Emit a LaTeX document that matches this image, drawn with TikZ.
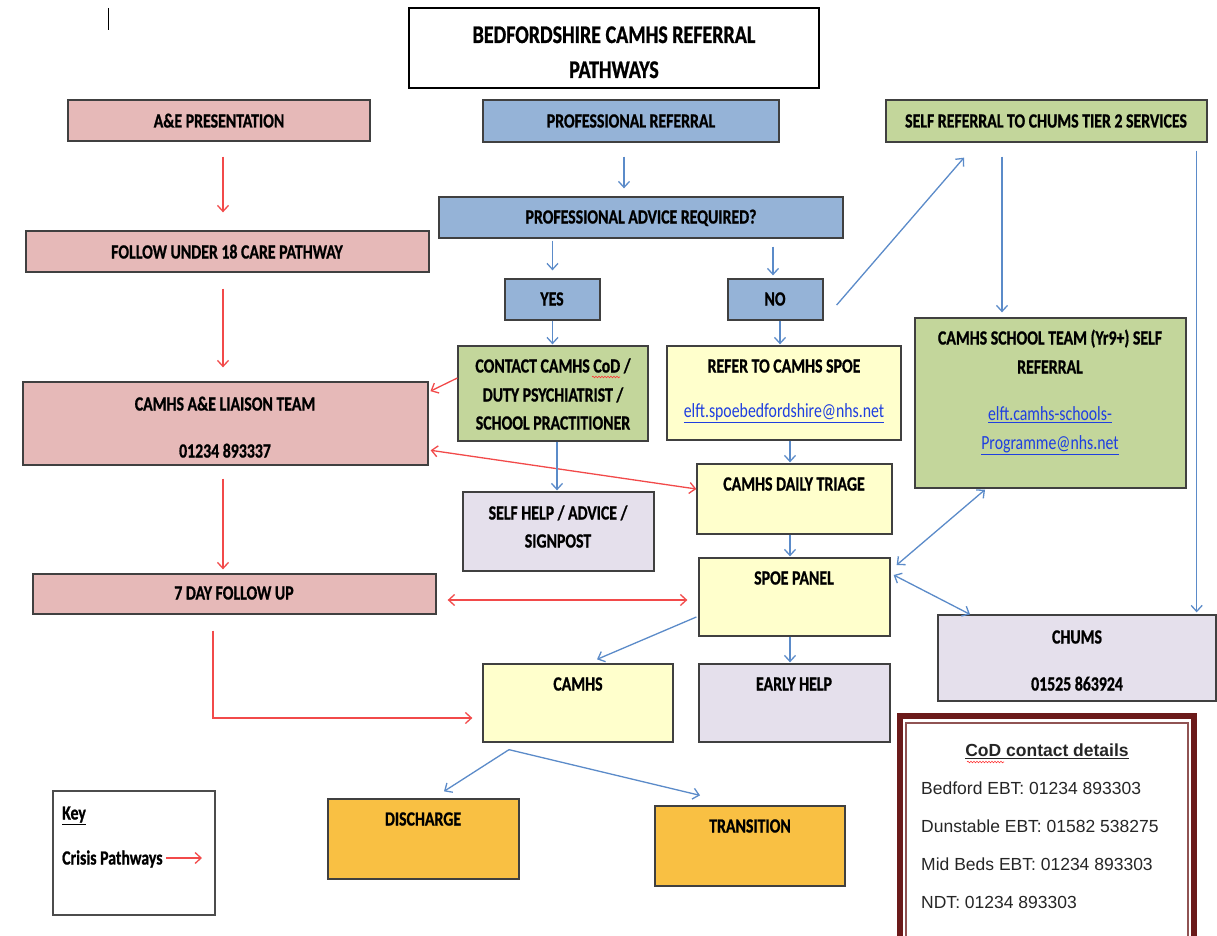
\documentclass[tikz,border=0pt]{standalone}
\usepackage{fontspec}
\setmainfont{Carlito}[FakeStretch=0.93, BoldFeatures={FakeBold=1}]
\newfontfamily\arialf{Liberation Sans}
\usetikzlibrary{arrows.meta,fit,decorations.pathmorphing}
\definecolor{pinkf}{HTML}{E6B9B8}
\definecolor{bluef}{HTML}{95B3D7}
\definecolor{greenf}{HTML}{C3D69B}
\definecolor{yellowf}{HTML}{FFFFCC}
\definecolor{lavf}{HTML}{E5E0EC}
\definecolor{orangef}{HTML}{F9C043}
\definecolor{arrblue}{HTML}{5B8BC9}
\definecolor{arrred}{HTML}{F24A4A}
\definecolor{linkblue}{HTML}{1F3FE0}
\definecolor{maroon}{HTML}{6B1A1A}
\newcommand{\vs}[1]{\scalebox{1}[1.18]{#1}}
\tikzset{
  box/.style={draw=black!75, line width=1.3pt, inner sep=0pt},
  lbl/.style={font=\bfseries\fontsize{17}{20}\selectfont, inner sep=0pt, text height=13pt, text depth=0pt},
  lnk/.style={font=\fontsize{17}{20}\selectfont, text=linkblue, inner sep=0pt, text height=13pt, text depth=0pt},
  cf/.style={font=\arialf\fontsize{17.5}{20}\selectfont, text=black!85, inner sep=0pt, text height=12.5pt, text depth=0pt, anchor=west},
  ba/.style={draw=arrblue, line width=1.3pt, -{Straight Barb[length=6pt,width=11pt]}},
  bab/.style={draw=arrblue, line width=1.3pt, {Straight Barb[length=6pt,width=11pt]}-{Straight Barb[length=6pt,width=11pt]}},
  ra/.style={draw=arrred, line width=1.3pt, -{Straight Barb[length=6pt,width=11pt]}},
  rab/.style={draw=arrred, line width=1.3pt, {Straight Barb[length=6pt,width=11pt]}-{Straight Barb[length=6pt,width=11pt]}},
  squig/.style={draw=red!80, line width=0.6pt, decorate, decoration={snake, amplitude=0.8pt, segment length=3pt}}
}
\begin{document}
\begin{tikzpicture}[x=1pt,y=-1pt]
\clip (0,0) rectangle (1217,936);
\fill[white] (0,0) rectangle (1217,936);
\draw[black, line width=0.8pt] (108,8) -- (108,30);
% boxes
\node[box, draw=black, line width=2pt, fit={(409,8) (819,88)}] (title) {};
\node[box, fill=pinkf, fit={(68,100) (370,141)}] (ae) {};
\node[box, fill=bluef, fit={(483,100) (779,142)}] (pr) {};
\node[box, fill=greenf, fit={(886,100) (1207,142)}] (sr) {};
\node[box, fill=bluef, fit={(439,197) (843,238)}] (pa) {};
\node[box, fill=pinkf, fit={(26,231) (429,272)}] (fol) {};
\node[box, fill=bluef, fit={(505,279) (600,320)}] (yes) {};
\node[box, fill=bluef, fit={(728,279) (823,320)}] (no) {};
\node[box, fill=greenf, fit={(458,346) (648,441)}] (con) {};
\node[box, fill=yellowf, fit={(667,346) (901,440)}] (ref) {};
\node[box, fill=greenf, fit={(915,318) (1186,488)}] (sch) {};
\node[box, fill=pinkf, fit={(23,382) (428,465)}] (lia) {};
\node[box, fill=yellowf, fit={(697,464) (892,534)}] (tri) {};
\node[box, fill=lavf, fit={(463,492) (654,571)}] (sh) {};
\node[box, fill=pinkf, fit={(33,574) (436,614)}] (sev) {};
\node[box, fill=yellowf, fit={(699,558) (890,636)}] (pan) {};
\node[box, fill=lavf, fit={(938,615) (1216,701)}] (chu) {};
\node[box, fill=yellowf, fit={(483,664) (673,742)}] (cam) {};
\node[box, fill=lavf, fit={(699,664) (890,742)}] (eh) {};
\node[box, fill=orangef, fit={(328,799) (519,879)}] (dis) {};
\node[box, fill=orangef, fit={(655,806) (845,886)}] (tra) {};
\node[box, draw=black!70, line width=1.2pt, fill=white, fit={(53,791) (215,915)}] (key) {};
\node[draw=maroon, line width=6pt, inner sep=0pt, fill=white, fit={(900,716) (1194,948)}] (cod) {};
\draw[maroon!75, line width=1.5pt] (906,723) rectangle (1188,950);
% texts
\node[lbl, font=\bfseries\fontsize{21.5}{24}\selectfont, text height=16pt] (t0a) at (614,35) {\vs{BEDFORDSHIRE CAMHS REFERRAL}};
\node[lbl, font=\bfseries\fontsize{21.5}{24}\selectfont, text height=16pt] (t0b) at (614,70) {\vs{PATHWAYS}};
\node[lbl] (t1) at (219,121) {\vs{A\&E PRESENTATION}};
\node[lbl] (t2) at (631,121) {\vs{PROFESSIONAL REFERRAL}};
\node[lbl] (t3) at (1046,121) {\vs{SELF REFERRAL TO CHUMS TIER 2 SERVICES}};
\node[lbl] (t4) at (641,217) {\vs{PROFESSIONAL ADVICE REQUIRED?}};
\node[lbl] (t5) at (227,252) {\vs{FOLLOW UNDER 18 CARE PATHWAY}};
\node[lbl] (t6) at (552,299) {\vs{YES}};
\node[lbl] (t7) at (775,299) {\vs{NO}};
\node[lbl] (t8a) at (553,366) {\vs{CONTACT CAMHS CoD /}};
\node[lbl] (t8b) at (553,395) {\vs{DUTY PSYCHIATRIST /}};
\node[lbl] (t8c) at (553,423) {\vs{SCHOOL PRACTITIONER}};
\draw[squig] (592,377) -- (620,377);
\node[lbl] (t9) at (784,366) {\vs{REFER TO CAMHS SPOE}};
\node[lnk] (t9b) at (784,411) {\vs{\underline{elft.spoebedfordshire@nhs.net}}};
\node[lbl] (t10a) at (1050,338) {\vs{CAMHS SCHOOL TEAM (Yr9+) SELF}};
\node[lbl] (t10b) at (1050,367) {\vs{REFERRAL}};
\node[lnk] (t10c) at (1050,414) {\vs{\underline{elft.camhs-schools-}}};
\node[lnk] (t10d) at (1050,443) {\vs{\underline{Programme@nhs.net}}};
\node[lbl] (t11a) at (225,404) {\vs{CAMHS A\&E LIAISON TEAM}};
\node[lbl] (t11b) at (225,451) {\vs{01234 893337}};
\node[lbl] (t12) at (794,484) {\vs{CAMHS DAILY TRIAGE}};
\node[lbl] (t13a) at (558,513) {\vs{SELF HELP / ADVICE /}};
\node[lbl] (t13b) at (558,541) {\vs{SIGNPOST}};
\node[lbl] (t14) at (234,593) {\vs{7 DAY FOLLOW UP}};
\node[lbl] (t15) at (794,578) {\vs{SPOE PANEL}};
\node[lbl] (t16a) at (1077,637) {\vs{CHUMS}};
\node[lbl] (t16b) at (1077,684) {\vs{01525 863924}};
\node[lbl] (t17) at (578,684) {\vs{CAMHS}};
\node[lbl] (t18) at (794,684) {\vs{EARLY HELP}};
\node[lbl] (t19) at (423,819) {\vs{DISCHARGE}};
\node[lbl] (t20) at (750,826) {\vs{TRANSITION}};
\node[lbl, anchor=west] (k1) at (62,813) {\vs{\underline{Key}}};
\node[lbl, anchor=west] (k2) at (62,858) {\vs{Crisis Pathways}};
\coordinate (kend) at (202,858);
\draw[ra] ([xshift=3pt]k2.east) -- (kend);
\node[cf, anchor=center, font=\arialf\bfseries\fontsize{17.5}{20}\selectfont] (c0) at (1047,750) {\underline{CoD contact details}};
\draw[squig] (967,762) -- (1004,762);
\node[cf] (c1) at (921,788) {Bedford EBT: 01234 893303};
\node[cf] (c2) at (921,826) {Dunstable EBT: 01582 538275};
\node[cf] (c3) at (921,864) {Mid Beds EBT: 01234 893303};
\node[cf] (c4) at (921,902) {NDT: 01234 893303};
% red arrows
\draw[ra, shorten <=15pt, shorten >=18pt] ([xshift=4pt]ae.south) -- ([xshift=4pt]ae.south |- fol.north);
\draw[ra, shorten <=16pt, shorten >=14pt] ([xshift=-4.5pt]fol.south) -- ([xshift=-4.5pt]fol.south |- lia.north);
\draw[ra, shorten >=2pt] ([yshift=15.5pt]con.west) -- ([yshift=31.5pt]lia.east);
\draw[rab, shorten <=2pt] ([yshift=-26.5pt]lia.east) -- ([yshift=10pt]tri.west);
\draw[ra, shorten <=13pt, shorten >=4pt] ([xshift=-2.5pt]lia.south) -- ([xshift=-2.5pt]lia.south |- sev.north);
\draw[rab, shorten <=11pt, shorten >=11pt] ([yshift=-6pt]sev.east) -- ([yshift=-6pt]sev.east -| pan.west);
\draw[ra, shorten >=10pt] ([xshift=-21.5pt,yshift=-16pt]sev.south) |- ([yshift=-15pt]cam.west);
% blue arrows
\draw[ba, shorten <=14pt, shorten >=8pt] ([xshift=-7pt]pr.south) -- ([xshift=-7pt]pr.south |- pa.north);
\draw[ba, shorten <=2pt, shorten >=8pt] (yes.north |- pa.south) -- (yes.north);
\draw[ba, shorten <=8pt, shorten >=3pt] ([xshift=-2.5pt]no.north |- pa.south) -- ([xshift=-2.5pt]no.north);
\draw[ba] ([xshift=13pt,yshift=-5.5pt]no.east) -- ([xshift=-82.5pt,yshift=-15pt]sr.south);
\draw[ba, shorten >=1pt] (yes.south) -- (yes.south |- con.north);
\draw[ba, shorten >=1pt] ([xshift=4.5pt]no.south) -- ([xshift=4.5pt]no.south |- ref.north);
\draw[ba, shorten <=14pt, shorten >=5pt] ([xshift=-48.5pt]sch.north |- sr.south) -- ([xshift=-48.5pt]sch.north);
\draw[ba, shorten <=8pt, shorten >=2pt] ([xshift=-11pt]sr.south east) -- ([xshift=-11pt]sr.south east |- chu.north);
\draw[ba, shorten >=1pt] ([xshift=4pt]con.south) -- ([xshift=4pt]con.south |- sh.north);
\draw[ba, shorten >=1pt] ([xshift=6pt]ref.south) -- ([xshift=6pt]ref.south |- tri.north);
\draw[ba, shorten >=1pt] ([xshift=-4.5pt]tri.south) -- ([xshift=-4.5pt]tri.south |- pan.north);
\draw[bab] ([xshift=-65.5pt,yshift=-1pt]sch.south) -- ([xshift=6pt,yshift=32pt]pan.east);
\draw[bab] ([xshift=3pt,yshift=22pt]pan.east) -- ([xshift=-107pt]chu.north);
\draw[ba] ([xshift=-2pt,yshift=-20pt]pan.west) -- ([xshift=19pt,yshift=4pt]cam.north);
\draw[ba, shorten >=1pt] ([xshift=-4.5pt]pan.south) -- ([xshift=-4.5pt]pan.south |- eh.north);
\coordinate (split) at ([xshift=-69pt,yshift=-7pt]cam.south);
\draw[ba] (split) -- ([xshift=20.5pt,yshift=7pt]dis.north);
\draw[ba] (split) -- ([xshift=-50pt,yshift=10pt]tra.north);
\end{tikzpicture}
\end{document}
